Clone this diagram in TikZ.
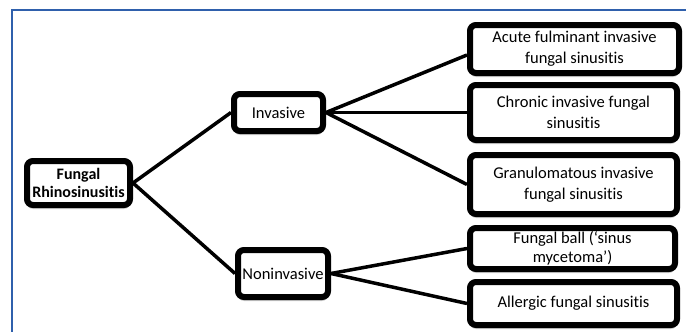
\documentclass[tikz,border=0pt]{standalone}
\usepackage{fontspec}
\setmainfont{Carlito}[Ligatures=NoCommon]
\usepackage{tikz}
\usetikzlibrary{positioning,shadows,backgrounds}
\usepackage{xcolor}
\definecolor{frameblue}{RGB}{47,96,172}
\definecolor{shadowgray}{RGB}{120,120,120}

\tikzset{
    fbox/.style={draw,line width=6pt,rounded corners=6pt,fill=white,align=center,
        inner sep=2pt,font=\fontsize{16.5}{21}\selectfont,
        drop shadow={shadow xshift=0pt,shadow yshift=-4pt,opacity=0.35,fill=shadowgray}},
    branch/.style={line width=3.5pt,black}
}

\begin{document}
\begin{tikzpicture}[x=1pt,y=-1pt]
    \useasboundingbox (0,0) rectangle (686,332);
    \draw[frameblue,line width=2.5pt] (12,333) -- (12,10) -- (687,10);

    % root and first split
    \node[fbox,minimum width=103pt,minimum height=44pt,inner sep=1pt,font=\fontsize{16}{18.5}\selectfont\bfseries] (fr) at (78.5,183) {Fungal\\Rhinosinusitis};
    \node[fbox,minimum width=89pt,minimum height=37pt] (inv) at (278.5,112.5) {Invasive};
    \node[fbox,minimum width=90pt,minimum height=47pt] (noninv) at (283,273.5) {Noninvasive};

    % leaves
    \node[fbox,minimum width=209pt,minimum height=48pt] (acute) at (574.5,49) {Acute fulminant invasive\\fungal sinusitis};
    \node[fbox,minimum width=207pt,minimum height=55pt] (chronic) at (573.5,112.5) {Chronic invasive fungal\\sinusitis};
    \node[fbox,minimum width=207pt,minimum height=59pt] (granul) at (573.5,184.5) {Granulomatous invasive\\fungal sinusitis};
    \node[fbox,minimum width=205pt,minimum height=41pt,inner sep=0pt,font=\fontsize{16.5}{18.5}\selectfont] (ball) at (572.5,248.5) {Fungal ball (‘sinus\\mycetoma’)};
    \node[fbox,minimum width=207pt,minimum height=43pt] (allergic) at (573.5,303.5) {Allergic fungal sinusitis};

    \begin{scope}[on background layer]
    \draw[branch] (fr.east) -- (inv.west);
    \draw[branch] (fr.east) -- (noninv.west);
    \draw[branch] (inv.east) -- ([yshift=-6pt]acute.west);
    \draw[branch] (inv.east) -- (chronic.west);
    \draw[branch] (inv.east) -- (granul.west);
    \draw[branch] (noninv.east) -- (ball.west);
    \draw[branch] (noninv.east) -- (allergic.west);
    \end{scope}
\end{tikzpicture}
\end{document}
